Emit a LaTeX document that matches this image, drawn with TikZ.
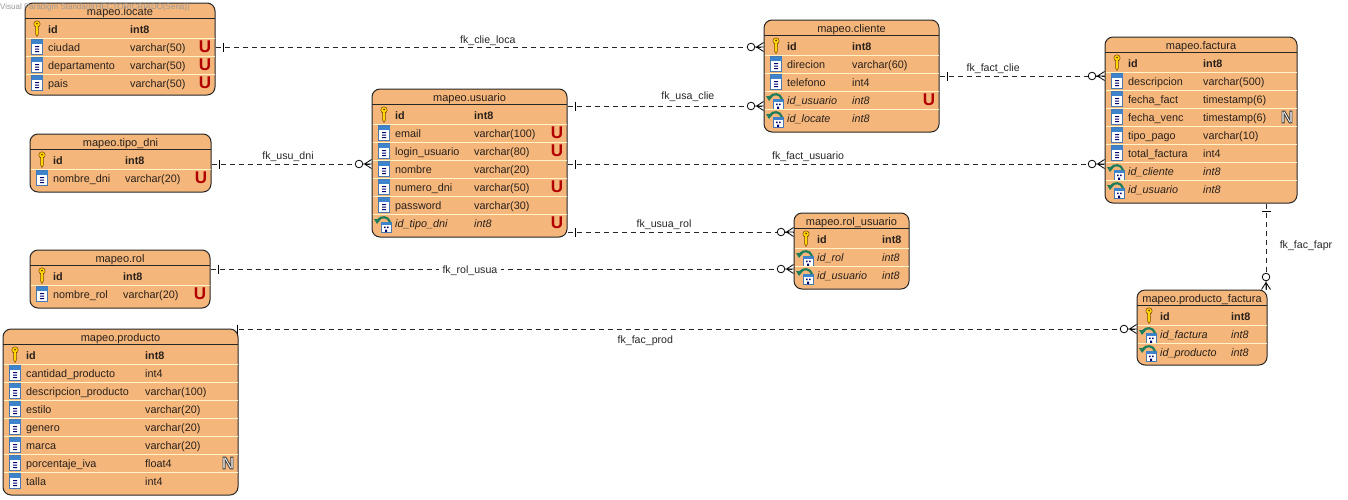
\documentclass[tikz,border=0pt]{standalone}
\usepackage{fontspec}
\setmainfont{Liberation Sans}
\usetikzlibrary{calc,fit,positioning}

\definecolor{boxfill}{RGB}{244,182,122}
\definecolor{rowsep}{RGB}{255,244,200}
\definecolor{fieldtext}{RGB}{40,32,28}
\definecolor{iconblue}{RGB}{62,132,205}
\definecolor{iconframe}{RGB}{70,120,180}
\definecolor{icongreen}{RGB}{30,125,90}

\tikzset{
    tablebox/.style={draw=black!85,fill=boxfill,line width=1pt,rounded corners=8pt,inner sep=0pt},
    tabletitle/.style={font=\fontsize{11}{12}\selectfont,text=fieldtext,inner sep=0pt},
    fieldname/.style={font=\fontsize{10.8}{12}\selectfont,text=fieldtext,inner sep=0pt,anchor=base west},
    fkline/.style={line width=.7pt,black!85,dash pattern=on 5pt off 4pt},
    fklabel/.style={font=\fontsize{10.6}{12}\selectfont,text=black!85,inner sep=1pt},
    flagmark/.style={inner sep=0pt,font=\fontsize{17}{17}\bfseries\selectfont},
    onebar/.pic={\draw[solid,line width=.8pt,black] (#1,-4.5)--(#1,4.5);},
    crowfoot/.pic={
        \draw[solid,line width=.8pt,black,fill=white] (-12.5,0) circle (3.8);
        \draw[solid,line width=.8pt,black] (0,-4.5)--(-7,0)--(0,4.5) (-8.7,0)--(0,0);
    },
    key/.pic={
        \draw[draw=black!50!orange,fill=yellow!75!orange,line width=.5pt]
            (-1.4,-3)--(-1.4,5)--(0,7.5)--(1.4,5)--(1.4,-3) (0,-5) circle (3.2);
        \fill[yellow!75!orange] (-1,-3.5) rectangle (1,0);
        \fill[black!50!orange] (0,-5.5) circle (1);
    },
    col/.pic={
        \draw[draw=iconframe,fill=white,line width=.7pt] (-5.5,-7.5) rectangle (5.5,7.5);
        \fill[iconblue] (-5.5,-7.5) rectangle (5.5,-3);
        \fill[blue!45!black] (-2,-0.8) rectangle (2,.2) (-2,1.7) rectangle (2,2.7) (-2,4.2) rectangle (2,5.2);
    },
    fk/.pic={
        \draw[draw=iconframe,fill=white,line width=.6pt] (-3,-1) rectangle (7,9);
        \fill[iconblue] (-3,-1) rectangle (7,2);
        \fill[blue!45!black] (0,3.5) rectangle (1.5,5) (3,3.5) rectangle (4.5,5) (1,6.5) rectangle (3,9);
        \draw[icongreen,line width=2.2pt] (6,-1) .. controls (4,-7) and (-3,-7) .. (-6,-3);
        \fill[icongreen] (-10,-4) -- (-3,-4) -- (-7,1) -- cycle;
    },
}

\newcommand{\uniq}{\textcolor{red!70!black}{U}}
\newcommand{\notnull}{\special{pdf:code 2 Tr .9 w .25 G 1 g}N\special{pdf:code 0 Tr 0 G 0 g}}
\def\noflag{-}

% name, left, top, right, bottom, column of the type, title, rows
\newcommand{\mapeotable}[8]{
    \coordinate (#1-nw) at (#2,#3);
    \coordinate (#1-se) at (#4,#5);
    \node[tablebox,fit=(#1-nw)(#1-se)] (#1) {};
    \node[tabletitle] (#1-title) at ({(#2+#4)/2},#3+9.5) {#7};
    \draw[black!85,line width=.8pt] (#2,#3+15) -- (#4,#3+15);
    \foreach \ic/\fld/\typ/\flg [count=\n] in {#8}{
        \pgfmathsetmacro{\rowy}{#3+26+18*(\n-1)}
        \ifnum\n>1
            \draw[rowsep,line width=.9pt] (#2+.5,\rowy-9) -- (#4-.5,\rowy-9);
        \fi
        \path (#2+12,\rowy) pic {\ic};
        \node[fieldname] (#1-f\n) at (#2+23,\rowy+4.1) {\fld};
        \node[fieldname] (#1-t\n) at (#6,\rowy+4.1) {\typ};
        \ifx\flg\noflag\else
            \node[flagmark] (#1-m\n) at (#4-10,\rowy) {\flg};
        \fi
    }
}

\begin{document}
\begin{tikzpicture}[x=1pt,y=-1pt]
    \useasboundingbox (0,0) rectangle (1348,499);

    %tables
    \mapeotable{locate}{25}{3}{215}{95}{130}{mapeo.locate}{
        key/\textbf{id}/\textbf{int8}/-,
        col/ciudad/varchar(50)/\uniq,
        col/departamento/varchar(50)/\uniq,
        col/pais/varchar(50)/\uniq}
    \mapeotable{tipodni}{30}{134}{211}{192}{125}{mapeo.tipo\_dni}{
        key/\textbf{id}/\textbf{int8}/-,
        col/nombre\_dni/varchar(20)/\uniq}
    \mapeotable{rol}{30}{250}{210}{308}{123}{mapeo.rol}{
        key/\textbf{id}/\textbf{int8}/-,
        col/nombre\_rol/varchar(20)/\uniq}
    \mapeotable{producto}{3}{329}{238}{495}{145}{mapeo.producto}{
        key/\textbf{id}/\textbf{int8}/-,
        col/cantidad\_producto/int4/-,
        col/descripcion\_producto/varchar(100)/-,
        col/estilo/varchar(20)/-,
        col/genero/varchar(20)/-,
        col/marca/varchar(20)/-,
        col/porcentaje\_iva/float4/\notnull,
        col/talla/int4/-}
    \mapeotable{usuario}{372}{89}{567}{237}{474}{mapeo.usuario}{
        key/\textbf{id}/\textbf{int8}/-,
        col/email/varchar(100)/\uniq,
        col/login\_usuario/varchar(80)/\uniq,
        col/nombre/varchar(20)/-,
        col/numero\_dni/varchar(50)/\uniq,
        col/password/varchar(30)/-,
        fk/\textit{id\_tipo\_dni}/\textit{int8}/\uniq}
    \mapeotable{cliente}{764}{20}{939}{132}{852}{mapeo.cliente}{
        key/\textbf{id}/\textbf{int8}/-,
        col/direcion/varchar(60)/-,
        col/telefono/int4/-,
        fk/\textit{id\_usuario}/\textit{int8}/\uniq,
        fk/\textit{id\_locate}/\textit{int8}/-}
    \mapeotable{rolusuario}{794}{213}{909}{289}{882}{mapeo.rol\_usuario}{
        key/\textbf{id}/\textbf{int8}/-,
        fk/\textit{id\_rol}/\textit{int8}/-,
        fk/\textit{id\_usuario}/\textit{int8}/-}
    \mapeotable{factura}{1105}{37}{1297}{203}{1203}{mapeo.factura}{
        key/\textbf{id}/\textbf{int8}/-,
        col/descripcion/varchar(500)/-,
        col/fecha\_fact/timestamp(6)/-,
        col/fecha\_venc/timestamp(6)/\notnull,
        col/tipo\_pago/varchar(10)/-,
        col/total\_factura/int4/-,
        fk/\textit{id\_cliente}/\textit{int8}/-,
        fk/\textit{id\_usuario}/\textit{int8}/-}
    \mapeotable{prodfactura}{1137}{290}{1267}{365}{1231}{mapeo.producto\_factura}{
        key/\textbf{id}/\textbf{int8}/-,
        fk/\textit{id\_factura}/\textit{int8}/-,
        fk/\textit{id\_producto}/\textit{int8}/-}

    %foreign keys
    \draw[fkline] (locate.east |- 0,47) -- (cliente.west |- 0,47)
        node[fklabel,pos=.497,yshift=6.5pt] (clieloca) {fk\_clie\_loca}
        pic[pos=0,sloped] {onebar=8} pic[pos=1,sloped] {crowfoot};
    \draw[fkline] (usuario.east |- 0,106) -- (cliente.west |- 0,106)
        node[fklabel,pos=.614,yshift=9pt] (usaclie) {fk\_usa\_clie}
        pic[pos=0,sloped] {onebar=8} pic[pos=1,sloped] {crowfoot};
    \draw[fkline] (cliente.east |- 0,76) -- (factura.west |- 0,76)
        node[fklabel,pos=.325,yshift=7pt] (factclie) {fk\_fact\_clie}
        pic[pos=0,sloped] {onebar=8} pic[pos=1,sloped] {crowfoot};
    \draw[fkline] (tipodni.east |- 0,164) -- (usuario.west |- 0,164)
        node[fklabel,pos=.478,yshift=7pt] (usudni) {fk\_usu\_dni}
        pic[pos=0,sloped] {onebar=8} pic[pos=1,sloped] {crowfoot};
    \draw[fkline] (usuario.east |- 0,164) -- (factura.west |- 0,164)
        node[fklabel,pos=.448,yshift=7.5pt] (factusuario) {fk\_fact\_usuario}
        pic[pos=0,sloped] {onebar=8} pic[pos=1,sloped] {crowfoot};
    \draw[fkline] (usuario.east |- 0,232) -- (rolusuario.west |- 0,232)
        node[fklabel,pos=.427,yshift=7pt] (usuarol) {fk\_usua\_rol}
        pic[pos=0,sloped] {onebar=8} pic[pos=1,sloped] {crowfoot};
    \draw[fkline] (rol.east |- 0,269) -- (rolusuario.west |- 0,269)
        node[fklabel,pos=.445,yshift=-2pt,fill=white,inner xsep=4pt] (rolusua) {fk\_rol\_usua}
        pic[pos=0,sloped] {onebar=8} pic[pos=1,sloped] {crowfoot};
    \draw[fkline] (producto.east |- 0,329) -- (prodfactura.west |- 0,329)
        node[fklabel,pos=.453,yshift=-12pt] (facprod) {fk\_fac\_prod}
        pic[pos=0,sloped] {onebar=-1} pic[pos=1,sloped] {crowfoot};
    \draw[fkline] (factura.south -| 1266,0) -- (prodfactura.north -| 1266,0)
        node[fklabel,pos=.49,xshift=40pt] (facfapr) {fk\_fac\_fapr}
        pic[pos=0,sloped] {onebar=8} pic[pos=1,sloped] {crowfoot};

    \node[font=\fontsize{8}{9}\selectfont,text=black!40,inner sep=0pt,anchor=west] (stamp) at (0,7)
        {Visual Paradigm Standard(HECTOR(CRIADO(Sena))};
\end{tikzpicture}
\end{document}
